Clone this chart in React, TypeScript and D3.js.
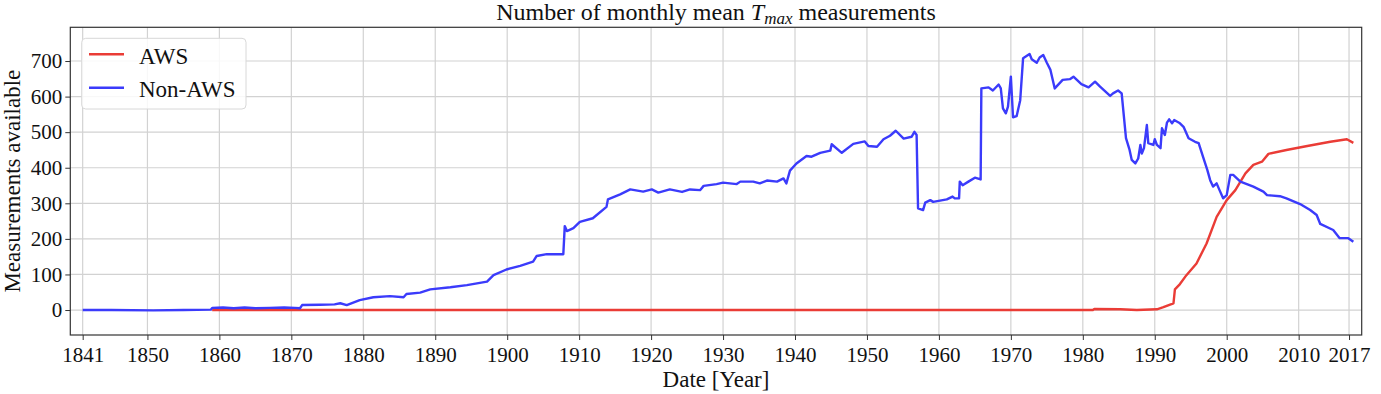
import React, { useEffect, useRef } from "react";
import * as d3 from "d3";

// Non-AWS stations: [year, count]
const nonAwsYears = [
  1841.0, 1845.0, 1850.8, 1855.0, 1858.8, 1859.0, 1860.5, 1862.0, 1863.5, 1865.0, 1867.0, 1869.0,
  1870.5, 1871.2, 1871.5, 1874.0, 1876.0, 1876.8, 1877.7, 1879.5, 1881.4, 1883.7, 1885.6, 1886.0,
  1887.9, 1889.3, 1892.1, 1894.4, 1897.2, 1898.1, 1899.9, 1901.8, 1903.6, 1904.1, 1905.5, 1907.8,
  1908.0, 1908.3, 1909.2, 1910.1, 1911.9, 1913.8, 1914.0, 1915.7, 1917.1, 1918.9, 1920.1, 1921.0,
  1922.6, 1924.3, 1925.4, 1926.8, 1927.3, 1929.1, 1930.0, 1931.9, 1932.4, 1934.2, 1935.1, 1936.1,
  1937.5, 1938.4, 1938.8, 1939.3, 1940.2, 1941.6, 1942.3, 1943.5, 1944.9, 1945.1, 1946.5, 1948.1,
  1949.7, 1950.2, 1951.4, 1952.3, 1953.2, 1954.0, 1955.1, 1956.2, 1956.6, 1956.9, 1957.1, 1957.8,
  1958.1, 1958.8, 1959.2, 1961.1, 1961.9, 1962.2, 1962.8, 1962.9, 1963.3, 1964.1, 1965.0, 1965.8,
  1965.9, 1966.9, 1967.5, 1968.3, 1968.6, 1968.9, 1969.3, 1969.6, 1970.0, 1970.3, 1970.8, 1971.3,
  1971.7, 1972.6, 1972.9, 1973.6, 1974.0, 1974.5, 1975.0, 1975.5, 1976.1, 1977.2, 1978.2, 1978.7,
  1979.8, 1980.8, 1981.7, 1982.4, 1983.8, 1984.2, 1984.9, 1985.4, 1986.0, 1986.5, 1986.8, 1987.3,
  1987.7, 1988.0, 1988.2, 1988.5, 1988.9, 1989.1, 1989.8, 1990.0, 1990.3, 1990.8, 1991.0, 1991.4,
  1991.7, 1992.0, 1992.4, 1992.7, 1993.5, 1994.0, 1994.7, 1995.6, 1996.1, 1996.7, 1997.3, 1997.7,
  1998.1, 1998.6, 1999.0, 1999.5, 2000.0, 2000.5, 2000.9, 2001.9, 2003.7, 2005.1, 2005.6, 2007.4,
  2008.3, 2010.2, 2011.6, 2012.5, 2013.0, 2014.8, 2015.7, 2016.9, 2017.6,
];
const nonAwsValues = [
  0, 0, -1, 0, 1, 6, 7, 5, 7, 5, 6, 7,
  6, 5, 14, 15, 16, 19, 14, 28, 36, 39, 36, 45,
  49, 58, 64, 70, 80, 98, 114, 124, 136, 152, 157, 157,
  236, 222, 230, 248, 258, 290, 311, 325, 339, 333, 339, 330,
  339, 332, 339, 337, 349, 354, 358, 354, 361, 361, 356, 364,
  361, 370, 356, 392, 412, 433, 431, 442, 448, 466, 442, 467,
  474, 461, 459, 480, 490, 504, 482, 487, 501, 492, 286, 281,
  302, 309, 304, 311, 319, 314, 314, 361, 351, 361, 372, 367,
  623, 626, 617, 634, 623, 567, 553, 572, 656, 542, 545, 590,
  708, 720, 705, 695, 710, 717, 695, 675, 623, 647, 649, 656,
  635, 626, 642, 628, 602, 609, 617, 609, 483, 450, 422, 412,
  426, 464, 440, 455, 520, 469, 464, 480, 464, 455, 511, 492,
  527, 536, 525, 534, 525, 515, 483, 473, 469, 431, 394, 365,
  347, 356, 337, 314, 323, 380, 380, 361, 347, 333, 323, 320,
  314, 298, 281, 267, 242, 225, 202, 202, 192,
];

// AWS stations
const awsYears = [
  1859.0, 1981.4, 1981.6, 1985.2, 1987.5, 1990.3, 1991.2, 1992.6, 1992.8, 1993.5, 1994.4, 1995.8,
  1997.2, 1998.6, 2000.0, 2001.2, 2002.6, 2003.7, 2004.9, 2005.8, 2008.3, 2011.2, 2014.4, 2016.7,
  2017.6,
];
const awsValues = [
  0, 0, 3, 2, 0, 2, 8, 19, 58, 73, 98, 131,
  187, 262, 309, 337, 384, 408, 417, 439, 450, 461, 473, 480,
  470,
];

const xTicks = [1841, 1850, 1860, 1870, 1880, 1890, 1900, 1910, 1920, 1930, 1940, 1950, 1960, 1970, 1980, 1990, 2000, 2010, 2017];
const yTicks = [0, 100, 200, 300, 400, 500, 600, 700];

const seriesNames = ["AWS", "Non-AWS"];
const seriesColors = ["#ea3c36", "#3b3bfb"];

const FONT = "'Liberation Serif', 'Times New Roman', serif";

const App = () => {
  const ref = useRef<SVGSVGElement>(null);

  useEffect(() => {
    const width = 1381;
    const height = 394;
    const margin = { top: 27.3, right: 1381 - 1361.7, bottom: 394 - 335, left: 70.3 };
    const innerWidth = width - margin.left - margin.right;
    const innerHeight = height - margin.top - margin.bottom;

    const root = d3.select(ref.current);
    root.selectAll("*").remove();
    root.attr("width", width).attr("height", height);

    const svg = root.append("g").attr("transform", `translate(${margin.left},${margin.top})`);

    const xScale = d3.scaleLinear().domain([1839.28, 2018.76]).range([0, innerWidth]);
    const yScale = d3.scaleLinear().domain([-70.2, 794.8]).range([innerHeight, 0]);

    // grid
    svg.append("g")
      .selectAll("line")
      .data(xTicks)
      .join("line")
      .attr("x1", d => xScale(d))
      .attr("x2", d => xScale(d))
      .attr("y1", 0)
      .attr("y2", innerHeight)
      .attr("stroke", "#d2d2d2")
      .attr("stroke-width", 1.2);
    svg.append("g")
      .selectAll("line")
      .data(yTicks)
      .join("line")
      .attr("x1", 0)
      .attr("x2", innerWidth)
      .attr("y1", d => yScale(d))
      .attr("y2", d => yScale(d))
      .attr("stroke", "#d2d2d2")
      .attr("stroke-width", 1.2);

    const line = d3.line<[number, number]>()
      .x(d => xScale(d[0]))
      .y(d => yScale(d[1]));

    const aws: [number, number][] = awsYears.map((y, i) => [y, awsValues[i]]);
    const nonAws: [number, number][] = nonAwsYears.map((y, i) => [y, nonAwsValues[i]]);

    svg.append("path")
      .datum(aws)
      .attr("fill", "none")
      .attr("stroke", seriesColors[0])
      .attr("stroke-width", 2.4)
      .attr("stroke-linejoin", "round")
      .attr("d", line);

    svg.append("path")
      .datum(nonAws)
      .attr("fill", "none")
      .attr("stroke", seriesColors[1])
      .attr("stroke-width", 2.4)
      .attr("stroke-linejoin", "round")
      .attr("d", line);

    // axes
    const xAxis = svg.append("g")
      .attr("transform", `translate(0,${innerHeight})`)
      .call(d3.axisBottom(xScale).tickValues(xTicks).tickFormat(d3.format("d")).tickSize(5).tickPadding(4));
    const yAxis = svg.append("g")
      .call(d3.axisLeft(yScale).tickValues(yTicks).tickFormat(d3.format("d")).tickSize(5).tickPadding(3));

    [xAxis, yAxis].forEach(ax => {
      ax.select(".domain").remove();
      ax.selectAll(".tick line").attr("stroke", "#333").attr("stroke-width", 1);
      ax.selectAll(".tick text")
        .attr("fill", "#111")
        .style("font-family", FONT)
        .style("font-size", "21px");
    });
    xAxis.selectAll(".tick text").attr("dy", "0.85em");

    // frame
    svg.append("rect")
      .attr("width", innerWidth)
      .attr("height", innerHeight)
      .attr("fill", "none")
      .attr("stroke", "#333")
      .attr("stroke-width", 1.2);

    // title
    const title = root.append("text")
      .attr("x", margin.left + innerWidth / 2)
      .attr("y", 20)
      .attr("text-anchor", "middle")
      .style("font-family", FONT)
      .style("font-size", "24px")
      .attr("fill", "#111");
    title.append("tspan").text("Number of monthly mean ");
    title.append("tspan").attr("font-style", "italic").text("T");
    title.append("tspan").attr("font-style", "italic").attr("font-size", "17px").attr("dy", 4).text("max");
    title.append("tspan").attr("dy", -4).text(" measurements");

    // axis labels
    root.append("text")
      .attr("x", margin.left + innerWidth / 2)
      .attr("y", 387)
      .attr("text-anchor", "middle")
      .style("font-family", FONT)
      .style("font-size", "23px")
      .attr("fill", "#111")
      .text("Date [Year]");

    root.append("text")
      .attr("transform", `translate(20,${margin.top + innerHeight / 2}) rotate(-90)`)
      .attr("text-anchor", "middle")
      .style("font-family", FONT)
      .style("font-size", "23px")
      .attr("fill", "#111")
      .text("Measurements available");

    // legend
    const legend = root.append("g");
    legend.append("rect")
      .attr("x", 81.7)
      .attr("y", 38.3)
      .attr("width", 164.3)
      .attr("height", 70.7)
      .attr("rx", 4)
      .attr("fill", "#fff")
      .attr("fill-opacity", 0.85)
      .attr("stroke", "#d8d8d8")
      .attr("stroke-width", 1);
    seriesNames.forEach((name, i) => {
      const cy = 54.3 + i * 33.4;
      legend.append("line")
        .attr("x1", 89)
        .attr("x2", 124)
        .attr("y1", cy)
        .attr("y2", cy)
        .attr("stroke", seriesColors[i])
        .attr("stroke-width", 2.4);
      legend.append("text")
        .attr("x", 139)
        .attr("y", cy + 9.5)
        .style("font-family", FONT)
        .style("font-size", "23px")
        .attr("fill", "#111")
        .text(name);
    });
  }, []);

  return <svg ref={ref} style={{ position: "absolute", left: 0, top: 0 }}></svg>;
};

export default App;
